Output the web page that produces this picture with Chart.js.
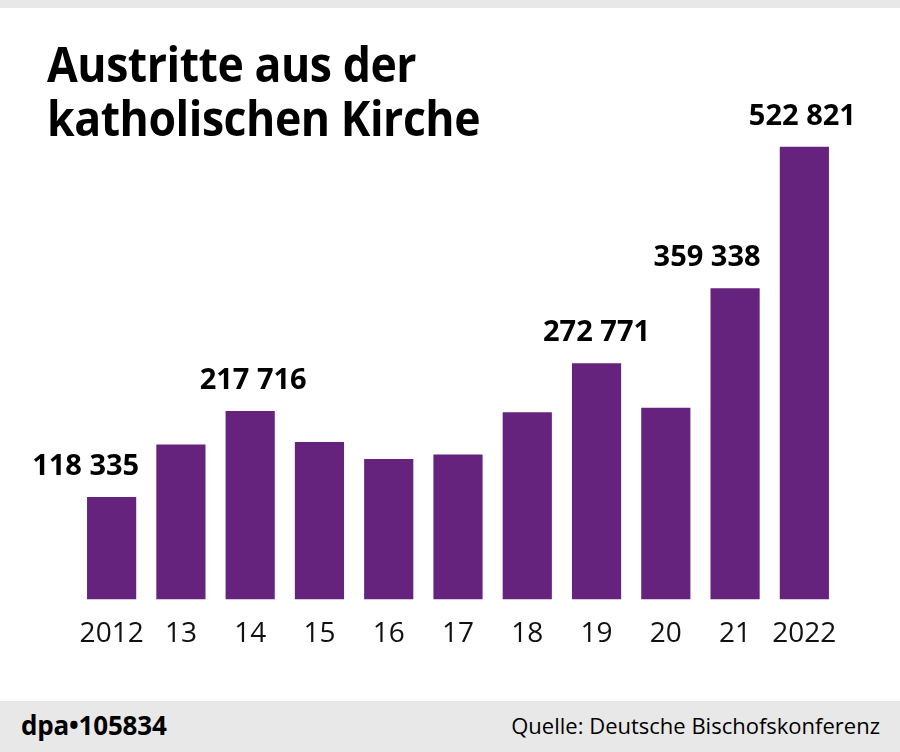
<!DOCTYPE html>
<html>
<head>
<meta charset="utf-8">
<script src="https://cdn.jsdelivr.net/npm/chart.js@4"></script>
<style>
  html, body { margin: 0; padding: 0; background: #fff; }
  #wrap { position: relative; width: 900px; height: 752px; overflow: hidden; font-family: "Open Sans", sans-serif; }
  #topbar { position: absolute; left: 0; top: 0; width: 900px; height: 8px; background: #e8e8e8; }
  #title { position: absolute; left: 47px; top: 36px; font-size: 49px; font-weight: bold; line-height: 54px; color: #000; transform: scaleX(0.91); transform-origin: left top; white-space: nowrap; letter-spacing: -0.5px; }
  #chartBox { position: absolute; left: 0; top: 0; width: 900px; height: 700px; }
  #footer { position: absolute; left: 0; top: 701px; width: 900px; height: 51px; background: #e8e8e8; }
  #dpa { position: absolute; left: 21px; top: 6px; font-size: 26px; font-weight: bold; color: #000; white-space: nowrap; letter-spacing: -0.2px; }
  #src { position: absolute; right: 20px; top: 9px; font-size: 22px; color: #000; white-space: nowrap; }
</style>
</head>
<body>
<div id="wrap">
  <div id="topbar"></div>
  <div id="chartBox"><canvas id="exitsChart" width="900" height="700"></canvas></div>
  <div id="title">Austritte aus der<br>katholischen Kirche</div>
  <div id="footer">
    <div id="dpa">dpa•105834</div>
    <div id="src">Quelle: Deutsche Bischofskonferenz</div>
  </div>
</div>
<script>
var years = ["2012", "13", "14", "15", "16", "17", "18", "19", "20", "21", "2022"];
var exits = [118335, 178805, 217716, 181925, 162093, 167504, 216078, 272771, 221390, 359338, 522821];
// only these bars get a number on top
var labelled = ["2012", "14", "19", "21", "2022"];

var barColor = "#65237e";

// value label on selected bars, shifted a bit like in the print graphic
var valueLabels = {
    id: "valueLabels",
    afterDatasetsDraw: function (chart, args, opts) {
        var ctx = chart.ctx;
        var meta = chart.getDatasetMeta(0);
        ctx.save();
        ctx.font = "bold 29px 'Open Sans', sans-serif";
        ctx.fillStyle = "#000";
        ctx.textAlign = "center";
        ctx.textBaseline = "alphabetic";
        meta.data.forEach(function (bar, i) {
            if (labelled.indexOf(years[i]) < 0) return;
            var txt = exits[i].toLocaleString("de-DE").replace(/\./g, " ");
            var dx = opts.shift[years[i]] || 0;
            ctx.fillText(txt, bar.x + dx, bar.y - 22);
        });
        ctx.restore();
    }
};

new Chart("exitsChart", {
    type: "bar",
    data: {
        labels: years,
        datasets: [{
            data: exits,
            backgroundColor: barColor,
            borderWidth: 0,
            barPercentage: 0.71,
            categoryPercentage: 1
        }]
    },
    options: {
        responsive: false,
        animation: false,
        layout: { padding: { left: 77, right: 61, top: 80, bottom: 31 } },
        plugins: {
            legend: { display: false },
            tooltip: { enabled: false },
            valueLabels: { shift: { "2012": -26, "14": 3, "21": -28, "2022": -2 } }
        },
        scales: {
            x: {
                grid: { display: false, drawTicks: false },
                border: { display: false },
                ticks: {
                    color: "#111",
                    padding: 18,
                    maxRotation: 0,
                    minRotation: 0,
                    autoSkip: false,
                    font: { family: "'Open Sans', sans-serif", size: 28 }
                }
            },
            y: { display: false, min: 0, max: 600000 }
        }
    },
    plugins: [valueLabels]
});
</script>
</body>
</html>
